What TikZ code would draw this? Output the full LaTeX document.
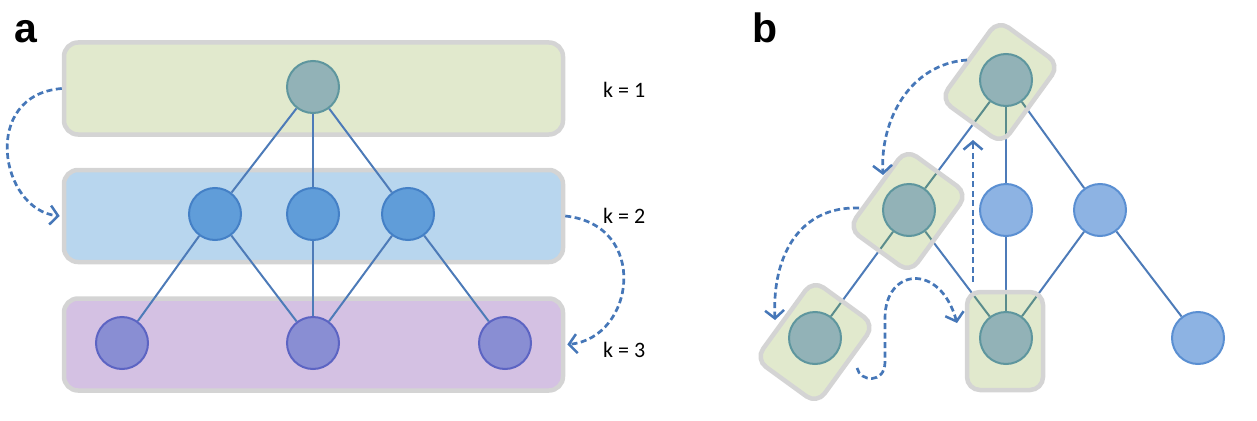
\documentclass[tikz,border=0pt]{standalone}
\usepackage{fontspec}
\setmainfont{Carlito}
\newfontfamily\labfont{Liberation Sans}
\usetikzlibrary{arrows.meta}
\pgfdeclarelayer{back}
\pgfdeclarelayer{edges}
\pgfdeclarelayer{boxes}
\pgfsetlayers{back,edges,boxes,main}
\definecolor{lgreen}{HTML}{E1E9CD}
\definecolor{lblue}{HTML}{B8D6EE}
\definecolor{lpurple}{HTML}{D4C1E3}
\definecolor{bordergray}{HTML}{D4D4D4}
\definecolor{tealfill}{HTML}{92B2B7}
\definecolor{tealline}{HTML}{5E969E}
\definecolor{midfill}{HTML}{609DD9}
\definecolor{midline}{HTML}{4480C6}
\definecolor{botfill}{HTML}{898ED3}
\definecolor{botline}{HTML}{5C64C3}
\definecolor{bfill}{HTML}{8DB3E3}
\definecolor{bline}{HTML}{5A8FD2}
\definecolor{edgeblue}{HTML}{4D7BB8}
\definecolor{edgeteal}{HTML}{5A8C8C}
\definecolor{arrowblue}{HTML}{4677B8}
\newcommand{\bedgelist}{t/m1,t/m2,t/m3,m1/l1,m1/l2,m2/l2,m3/l2,m3/l3}
\tikzset{
  layerbox/.style={draw=bordergray, line width=4.5pt, rounded corners=14pt,
    minimum width=499pt, minimum height=92pt, inner sep=0pt},
  nd/.style={circle, minimum size=52pt, inner sep=0pt, line width=2pt},
  topnd/.style={nd, fill=tealfill, draw=tealline},
  midnd/.style={nd, fill=midfill, draw=midline},
  botnd/.style={nd, fill=botfill, draw=botline},
  bnd/.style={nd, fill=bfill, draw=bline},
  edge/.style={draw=edgeblue, line width=2pt},
  tedge/.style={draw=edgeteal, line width=2pt},
  flow/.style={draw=arrowblue, line width=2.7pt, dash pattern=on 6pt off 3.5pt,
    -{Straight Barb[length=8pt,width=19pt,line width=2.5pt]}},
  bbox/.style={draw=bordergray, line width=4.5pt, fill=lgreen, rounded corners=13pt,
    minimum width=76pt, minimum height=98pt, inner sep=0pt,
    path picture={\foreach \p/\q in \bedgelist {\draw[tedge] (\p) -- (\q);}}},
  klabel/.style={anchor=base west, font=\fontsize{22}{26}\selectfont, inner sep=0pt},
  panel/.style={anchor=base west, font=\labfont\bfseries\fontsize{41}{48}\selectfont, inner sep=0pt}
}
\begin{document}
\begin{tikzpicture}[x=1pt,y=-1pt]
\useasboundingbox (0,0) rectangle (1257,420);
% ---------- panel a ----------
\node[panel] (la) at (14,43) {a};
\begin{pgfonlayer}{back}
\node[layerbox, fill=lgreen] (r1) at (313.5,88.5) {};
\node[layerbox, fill=lblue] (r2) at (313.5,216) {};
\node[layerbox, fill=lpurple] (r3) at (313.5,344.5) {};
\end{pgfonlayer}
\node[topnd] (a0) at (313,87) {};
\node[midnd] (a1) at (215,214) {};
\node[midnd] (a2) at (313,214) {};
\node[midnd] (a3) at (408,214) {};
\node[botnd] (a4) at (122,343) {};
\node[botnd] (a5) at (313,343) {};
\node[botnd] (a6) at (505,343) {};
\begin{pgfonlayer}{edges}
\foreach \p/\q in {a0/a1,a0/a2,a0/a3,a1/a4,a1/a5,a2/a5,a3/a5,a3/a6}
  \draw[edge] (\p) -- (\q);
\end{pgfonlayer}
\node[klabel] (k1) at (603,97) {k = 1};
\node[klabel] (k2) at (603,223) {k = 2};
\node[klabel] (k3) at (603,357) {k = 3};
\draw[flow] (r1.west) .. controls (-20,95) and (0,210) .. ([xshift=-2pt]r2.west);
\draw[flow] (r2.east) .. controls (650,225) and (635,338) .. ([xshift=2pt]r3.east);
% ---------- panel b ----------
\node[panel] (lb) at (752,42) {b};
\node[topnd] (t) at (1006,80) {};
\node[topnd] (m1) at (909,210) {};
\node[bnd] (m2) at (1006,210) {};
\node[bnd] (m3) at (1100,210) {};
\node[topnd] (l1) at (815,338) {};
\node[topnd] (l2) at (1006,338) {};
\node[bnd] (l3) at (1198,338) {};
\begin{pgfonlayer}{edges}
\foreach \p/\q in \bedgelist
  \draw[edge] (\p) -- (\q);
\end{pgfonlayer}
\begin{pgfonlayer}{boxes}
\node[bbox, rotate=-36] (bt) at (1000,82) {};
\node[bbox, rotate=-36] (bm1) at (908,211) {};
\node[bbox, rotate=-36] (bl1) at (815,342) {};
\node[bbox] (bl2) at (1005,341) {};
\end{pgfonlayer}
\coordinate (f1s) at (967,60);
\coordinate (f1e) at (883,175);
\coordinate (f2s) at (859,208);
\coordinate (f2e) at (775,320);
\coordinate (f3s) at (857,368);
\coordinate (f3e) at (957,323);
\coordinate (f4s) at (973,282);
\coordinate (f4e) at (973,140);
\draw[flow] (f1s) .. controls (910,64) and (880,120) .. (f1e);
\draw[flow] (f2s) .. controls (800,206) and (772,255) .. (f2e);
\draw[flow] (f3s) .. controls (860,382) and (885,384) .. (885,362) -- (885,318)
  .. controls (885,268) and (940,262) .. (f3e);
\draw[flow] (f4s) -- (f4e);
\end{tikzpicture}
\end{document}
